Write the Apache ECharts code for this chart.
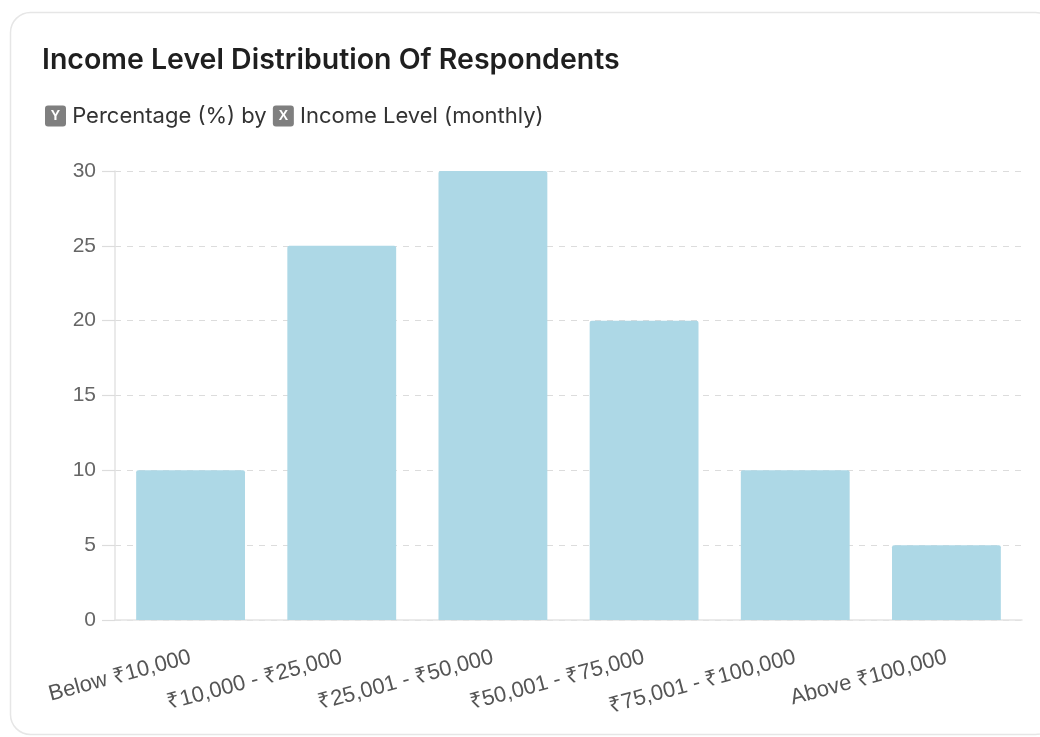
<!DOCTYPE html>
<html>
<head>
<meta charset="utf-8">
<script src="https://cdn.jsdelivr.net/npm/echarts@6/dist/echarts.min.js"></script>
<style>
  html, body { margin: 0; padding: 0; background: #fff; }
  #chart { width: 1040px; height: 737px; }
</style>
</head>
<body>
<div id="chart"></div>
<script>
const categories = ['Below ₹10,000', '₹10,000 - ₹25,000', '₹25,001 - ₹50,000', '₹50,001 - ₹75,000', '₹75,001 - ₹100,000', 'Above ₹100,000'];
const percentages = [10, 25, 30, 20, 10, 5];
const yTicks = { min: 0, max: 30, interval: 5 };

const AXIS_FONT = '"Liberation Sans", Arial, Helvetica, sans-serif';
const HEAD_FONT = 'Inter, "Liberation Sans", Arial, sans-serif';

const chart = echarts.init(document.getElementById('chart'), null, { renderer: 'canvas' });
chart.setOption({
  backgroundColor: '#fff',
  animation: false,
  graphic: [{
    type: 'rect',
    z: -10,
    shape: { x: 10.5, y: 12.5, width: 1045, height: 722, r: 20 },
    style: { fill: '#fff', stroke: '#e6e6e6', lineWidth: 1.5 }
  }],
  title: [{
    text: 'Income Level Distribution Of Respondents',
    left: 37, top: 41,
    textStyle: { fontFamily: HEAD_FONT, fontSize: 28.5, fontWeight: 600, color: '#1f1f1f' }
  }, {
    text: '{b|Y} Percentage (%) by {b|X} Income Level (monthly)',
    left: 40, top: 100,
    textStyle: {
      fontFamily: HEAD_FONT, fontSize: 22, fontWeight: 'normal', color: '#333',
      rich: {
        b: { backgroundColor: '#7f7f7f', color: '#fff', fontSize: 14, fontWeight: 'bold',
             fontFamily: AXIS_FONT, width: 21, height: 21, align: 'center',
             lineHeight: 21, borderRadius: 3 }
      }
    }
  }],
  grid: { left: 115, right: 18, top: 171, bottom: 117, containLabel: false },
  xAxis: {
    type: 'category',
    data: categories,
    axisLine: { show: true, lineStyle: { color: '#e3e3e3', width: 1.5 } },
    axisTick: { show: false },
    axisLabel: { rotate: 15, interval: 0, margin: 37, fontFamily: AXIS_FONT, fontSize: 22, color: '#555' }
  },
  yAxis: {
    type: 'value',
    min: yTicks.min, max: yTicks.max, interval: yTicks.interval,
    axisLine: { show: true, lineStyle: { color: '#e3e3e3', width: 1.5 } },
    axisTick: { show: true, length: 13, lineStyle: { color: '#dcdcdc', width: 1.2 } },
    axisLabel: { margin: 19, fontFamily: AXIS_FONT, fontSize: 21, color: '#666' },
    splitLine: { show: true, lineStyle: { color: '#dcdcdc', type: [6, 6], width: 1 } }
  },
  series: [{
    type: 'bar',
    data: percentages,
    barCategoryGap: '28%',
    itemStyle: { color: '#add8e6', borderRadius: [2, 2, 0, 0] }
  }]
});
</script>
</body>
</html>
